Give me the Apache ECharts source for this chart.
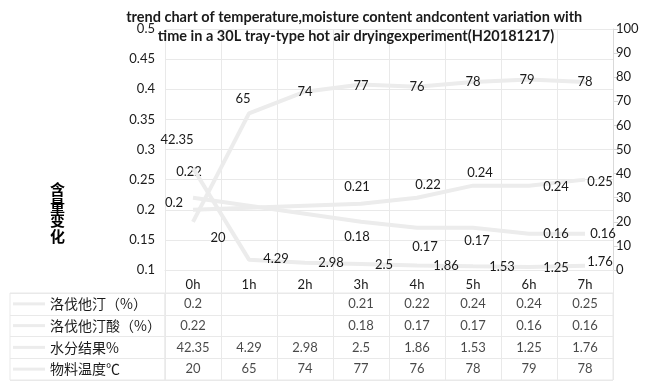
<!DOCTYPE html>
<html>
<head>
<meta charset="utf-8">
<script src="https://cdn.jsdelivr.net/npm/echarts@6/dist/echarts.min.js"></script>
<style>html,body{margin:0;padding:0;background:#fff;}#c{width:648px;height:384px;}</style>
</head>
<body>
<div id="c"></div>
<script>
var hours = ['0h','1h','2h','3h','4h','5h','6h','7h'];
var rowNames = ['洛伐他汀（%）','洛伐他汀酸（%）','水分结果%','物料温度℃'];
var lovastatin = [0.2, null, null, 0.21, 0.22, 0.24, 0.24, 0.25];
var lovastatinAcid = [0.22, null, null, 0.18, 0.17, 0.17, 0.16, 0.16];
var moisture = [42.35, 4.29, 2.98, 2.5, 1.86, 1.53, 1.25, 1.76];
var temperature = [20, 65, 74, 77, 76, 78, 79, 78];
var leftTicks = {min: 0.1, max: 0.5, interval: 0.05};
var rightTicks = {min: 0, max: 100, interval: 10};

var FONT = 'Lato';
var LINE_COLOR = '#ececec';
var GRID_COLOR = '#e9e9e9';
var TEXT = '#1a1a1a';

// label placement (style only): centre offset of each data label from its point, in px
var labelOffsets = [
  [[-19, -7], null, null, [-4, -17], [11, -13], [7, -13], [27, 1], [15, 2]],
  [[-4, -26], null, null, [-4, 15], [8, 19], [4, 13], [27, 0], [18, 0]],
  [[-16, -28], [27, -1], [26, 0], [23, 1], [29, 0], [29, 1], [27, 1], [15, -4]],
  [[25, 16], [-6, -15], [0, 0], [0, 1], [0, 0], [0, 0], [-2, 0], [0, 0]]
];

function buildSeriesData(arr, si) {
  return arr.map(function (v, i) {
    var o = {value: v};
    var off = labelOffsets[si][i];
    if (off) o.label = {position: [off[0], off[1]], align: 'center', verticalAlign: 'middle'};
    return o;
  });
}

var seriesArrays = [lovastatin, lovastatinAcid, moisture, temperature];
var axisIdx = [0, 0, 1, 1];

var lineSeries = seriesArrays.map(function (arr, si) {
  return {
    type: 'line',
    name: rowNames[si],
    xAxisIndex: 0,
    yAxisIndex: axisIdx[si],
    data: buildSeriesData(arr, si),
    connectNulls: true,
    symbol: 'rect',
    symbolSize: 0.01,
    showSymbol: true,
    lineStyle: {color: LINE_COLOR, width: 4},
    itemStyle: {color: 'rgba(0,0,0,0)'},
    label: {show: true, color: TEXT, fontFamily: FONT, fontSize: 13, align: 'center', verticalAlign: 'middle',
      formatter: function (p) { return p.value == null ? '' : String(p.value); }},
    labelLayout: {hideOverlap: false},
    z: 3 + si
  };
});

var cellData = [];
seriesArrays.forEach(function (arr, r) {
  arr.forEach(function (v, i) {
    if (v != null) cellData.push([i, r, v]);
  });
});

var option = {
  backgroundColor: '#fff',
  animation: false,
  title: [{
    text: 'trend chart of temperature,moisture content andcontent variation with \ntime in a 30L tray-type hot air dryingexperiment(H20181217)',
    left: 351, top: 3,
    textAlign: 'center',
    textStyle: {fontFamily: FONT, fontWeight: 'bold', fontSize: 14.5, color: TEXT, lineHeight: 19}
  }, {
    text: '含\n量\n变\n化',
    left: 45, top: 177,
    textStyle: {fontFamily: 'Noto Sans CJK SC', fontWeight: 'bold', fontSize: 15, lineHeight: 15.5, color: '#000'}
  }],
  grid: [
    {left: 165, right: 35, top: 29, bottom: 114},
    {left: 165, right: 35, top: 293, bottom: 4, show: true, borderColor: GRID_COLOR, borderWidth: 1},
    {left: 10, width: 155, top: 293, bottom: 4, show: true, borderColor: GRID_COLOR, borderWidth: 1}
  ],
  xAxis: [
    {gridIndex: 0, type: 'category', data: hours, boundaryGap: true,
      axisLine: {show: true, lineStyle: {color: GRID_COLOR}},
      axisTick: {show: true, length: 23, lineStyle: {color: GRID_COLOR}},
      axisLabel: {color: TEXT, fontFamily: FONT, fontSize: 13, margin: 8},
      splitLine: {show: true, lineStyle: {color: GRID_COLOR}}},
    {gridIndex: 1, type: 'category', data: hours, boundaryGap: true,
      axisLine: {show: false}, axisTick: {show: false}, axisLabel: {show: false},
      splitLine: {show: true, lineStyle: {color: GRID_COLOR}}},
    {gridIndex: 2, type: 'category', data: [''], show: false}
  ],
  yAxis: [
    {gridIndex: 0, type: 'value', min: leftTicks.min, max: leftTicks.max, interval: leftTicks.interval, position: 'left',
      axisLine: {show: false}, axisTick: {show: false},
      axisLabel: {color: TEXT, fontFamily: FONT, fontSize: 13, margin: 10,
        formatter: function (v) { return String(+v.toFixed(2)); }},
      splitLine: {show: true, lineStyle: {color: GRID_COLOR}}},
    {gridIndex: 0, type: 'value', min: rightTicks.min, max: rightTicks.max, interval: rightTicks.interval, position: 'right',
      axisLine: {show: true, lineStyle: {color: '#d9d9d9'}},
      axisTick: {show: true, length: 5, lineStyle: {color: '#d9d9d9'}},
      axisLabel: {color: TEXT, fontFamily: FONT, fontSize: 13, margin: 3},
      splitLine: {show: false}},
    {gridIndex: 1, type: 'category', data: rowNames, inverse: true,
      axisLine: {show: false}, axisTick: {show: false}, axisLabel: {show: false},
      splitLine: {show: true, lineStyle: {color: GRID_COLOR}}},
    {gridIndex: 2, type: 'category', data: rowNames, inverse: true,
      axisLine: {show: false}, axisTick: {show: false},
      axisLabel: {inside: true, align: 'left', margin: 3,
        formatter: function (v) { return '{k|}{n|' + v + '}'; },
        rich: {
          k: {width: 32, height: 3, backgroundColor: LINE_COLOR},
          n: {fontFamily: 'Noto Sans CJK SC', fontSize: 14, color: TEXT, padding: [0, 0, 0, 5]}
        }},
      splitLine: {show: true, lineStyle: {color: GRID_COLOR}}}
  ],
  series: lineSeries.concat([{
    type: 'scatter',
    xAxisIndex: 1, yAxisIndex: 2,
    data: cellData,
    symbolSize: 1,
    itemStyle: {color: 'rgba(0,0,0,0)'},
    label: {show: true, position: 'inside', color: TEXT, fontFamily: FONT, fontSize: 13,
      formatter: function (p) { return String(p.value[2]); }},
    labelLayout: {hideOverlap: false},
    silent: true
  }])
};

var chart = echarts.init(document.getElementById('c'), null, {renderer: 'canvas'});
chart.setOption(option);
</script>
</body>
</html>
